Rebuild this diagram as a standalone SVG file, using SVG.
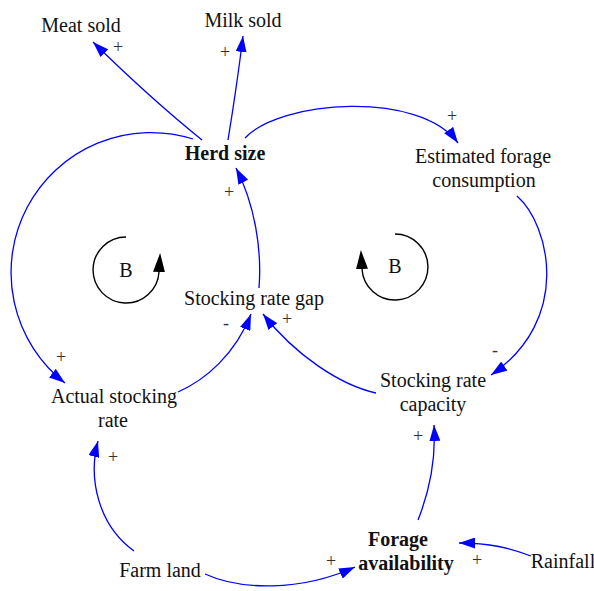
<svg xmlns="http://www.w3.org/2000/svg" width="594" height="591" viewBox="0 0 594 591">
  <style>
    .lbl { font-family: 'Liberation Serif', 'DejaVu Serif', serif; font-size: 20px; fill: #111; text-anchor: middle; }
    .bold { font-weight: bold; }
    .pol { font-family: 'Liberation Serif', 'DejaVu Serif', serif; font-size: 18px; fill: #333; text-anchor: middle; }
    .link { fill: none; stroke: #0000ff; stroke-width: 1.3; marker-end: url(#arrowBlue); }
    .loop { fill: none; stroke: #000; stroke-width: 1.4; marker-end: url(#arrowBlack); }
  </style>
  <defs>
    <marker id="arrowBlue" viewBox="0 0 16 11" refX="16" refY="5.5" markerWidth="16" markerHeight="11" markerUnits="userSpaceOnUse" orient="auto">
      <path d="M0,0 L16,5.5 L0,11 z" fill="#0000ff"/>
    </marker>
    <marker id="arrowBlack" viewBox="0 0 19 12" refX="0" refY="6" markerWidth="19" markerHeight="12" markerUnits="userSpaceOnUse" orient="auto">
      <path d="M0,0 L19,6 L0,12 z" fill="#000"/>
    </marker>
  </defs>
  <rect width="594" height="591" fill="#fff"/>

  <!-- causal links -->
  <g id="connectors">
    <path class="link" d="M202,140 Q150,98 93,42"/>
    <path class="link" d="M228,140 Q237,85 243,36"/>
    <path class="link" d="M245,138 C280,100 420,90 458,143"/>
    <path class="link" d="M517,196 C550,225 572,320 491,375"/>
    <path class="link" d="M376,393 C340,385 295,355 263,314"/>
    <path class="link" d="M178,392 C205,380 235,355 251,314"/>
    <path class="link" d="M259,288 C262,250 255,205 236,168"/>
    <path class="link" d="M193,139 A140,140 0 0 0 65,383"/>
    <path class="link" d="M134,551 C98,525 88,478 98,441"/>
    <path class="link" d="M205,574 C240,590 300,592 355,567"/>
    <path class="link" d="M418,520 C430,490 436,460 434,425"/>
    <path class="link" d="M531,556 C510,548 490,543 459,543"/>
  </g>

  <!-- link polarities -->
  <g id="polarities">
    <text class="pol" x="118" y="53">+</text>
    <text class="pol" x="225" y="58">+</text>
    <text class="pol" x="452" y="122">+</text>
    <text class="pol" x="495" y="356">-</text>
    <text class="pol" x="287" y="325">+</text>
    <text class="pol" x="226" y="329">-</text>
    <text class="pol" x="229" y="198">+</text>
    <text class="pol" x="61" y="363">+</text>
    <text class="pol" x="113" y="463">+</text>
    <text class="pol" x="331" y="567">+</text>
    <text class="pol" x="418" y="442">+</text>
    <text class="pol" x="477" y="566">+</text>
  </g>

  <!-- balancing loop markers -->
  <g id="loop-left">
    <path class="loop" d="M126,237 A33,33 0 1 0 159,272"/>
    <text class="lbl" x="126" y="277">B</text>
  </g>
  <g id="loop-right">
    <path class="loop" d="M395,234 A33,33 0 1 1 362,269"/>
    <text class="lbl" x="395" y="273">B</text>
  </g>

  <!-- variables -->
  <g id="meat-sold"><text class="lbl" x="81" y="32">Meat sold</text></g>
  <g id="milk-sold"><text class="lbl" x="243" y="27">Milk sold</text></g>
  <g id="herd-size"><text class="lbl bold" x="225" y="160">Herd size</text></g>
  <g id="estimated-forage-consumption">
    <text class="lbl" x="483" y="163">Estimated forage</text>
    <text class="lbl" x="484" y="187">consumption</text>
  </g>
  <g id="stocking-rate-gap"><text class="lbl" x="254" y="305">Stocking rate gap</text></g>
  <g id="actual-stocking-rate">
    <text class="lbl" x="114" y="403">Actual stocking</text>
    <text class="lbl" x="113" y="427">rate</text>
  </g>
  <g id="stocking-rate-capacity">
    <text class="lbl" x="433" y="387">Stocking rate</text>
    <text class="lbl" x="433" y="411">capacity</text>
  </g>
  <g id="farm-land"><text class="lbl" x="160" y="577">Farm land</text></g>
  <g id="forage-availability">
    <text class="lbl bold" x="398" y="546">Forage</text>
    <text class="lbl bold" x="406" y="570">availability</text>
  </g>
  <g id="rainfall"><text class="lbl" x="563" y="568">Rainfall</text></g>
</svg>
